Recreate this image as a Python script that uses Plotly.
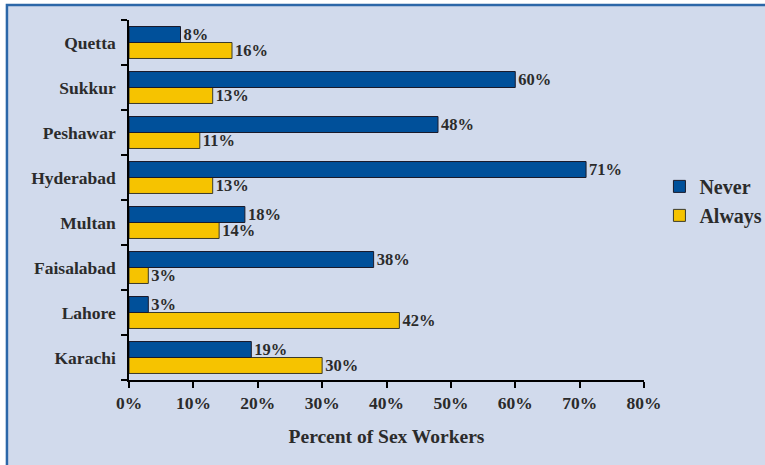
import plotly.graph_objects as go

cities = ["Karachi", "Lahore", "Faisalabad", "Multan", "Hyderabad", "Peshawar", "Sukkur", "Quetta"]
never = [19, 3, 38, 18, 71, 48, 60, 8]
always = [30, 42, 3, 14, 13, 11, 13, 16]
x_ticks = [0, 10, 20, 30, 40, 50, 60, 70, 80]

FONT = "Liberation Serif"
TXT = "#2b2b2b"

fig = go.Figure()
# Always first so that it sits below Never inside each group
fig.add_trace(go.Bar(
    y=cities, x=always, orientation="h", name="Always",
    marker=dict(color="#f6c300", line=dict(color="#3a3a2a", width=1)),
    text=[f"{v}%" for v in always], textposition="outside", constraintext="none",
    textfont=dict(family=FONT, size=16.5, color=TXT, weight="bold"),
    cliponaxis=False,
))
fig.add_trace(go.Bar(
    y=cities, x=never, orientation="h", name="Never",
    marker=dict(color="#00509a", line=dict(color="#1a1a2a", width=1)),
    text=[f"{v}%" for v in never], textposition="outside", constraintext="none",
    textfont=dict(family=FONT, size=16.5, color=TXT, weight="bold"),
    cliponaxis=False,
))

# panel background with blue frame
fig.add_shape(type="rect", xref="paper", yref="paper",
              x0=-0.237, x1=1.4, y0=-0.5, y1=1.042,
              fillcolor="#d1daec", line=dict(color="#2c67a8", width=2.5),
              layer="below")

fig.update_layout(
    width=765, height=465,
    margin=dict(l=129, r=121, t=20, b=85, autoexpand=False),
    paper_bgcolor="white", plot_bgcolor="rgba(0,0,0,0)",
    barmode="group", bargap=0.29, bargroupgap=0,
    font=dict(family=FONT, size=17.5, color=TXT, weight="bold"),
    legend=dict(x=0.862, y=0.568, xref="container", yref="container",
                xanchor="left", yanchor="middle",
                traceorder="reversed", bgcolor="rgba(0,0,0,0)",
                font=dict(size=20, weight="bold"), itemwidth=30),
    showlegend=True,
)
fig.update_xaxes(
    range=[0, 80], tickvals=x_ticks, ticktext=[f"{v}%" for v in x_ticks],
    showgrid=False, zeroline=False, showline=True, linecolor="black", linewidth=1.5,
    ticks="outside", ticklen=6, tickcolor="black", tickwidth=1.5,
    tickfont=dict(size=17.5, weight="bold"), automargin=False,
    title=dict(text="Percent of Sex Workers", font=dict(size=19.5, weight="bold"), standoff=18),
)
fig.update_yaxes(
    categoryorder="array", categoryarray=cities,
    showgrid=False, showline=True, linecolor="black", linewidth=1.5,
    ticks="outside", ticklen=6, tickcolor="black", tickwidth=1.5, tickson="boundaries",
    tickfont=dict(size=17.5, weight="bold"), ticklabelstandoff=8, automargin=False,
)

fig.write_html("out.html", config={"displayModeBar": False},
               post_script="document.body.style.margin='0';")
